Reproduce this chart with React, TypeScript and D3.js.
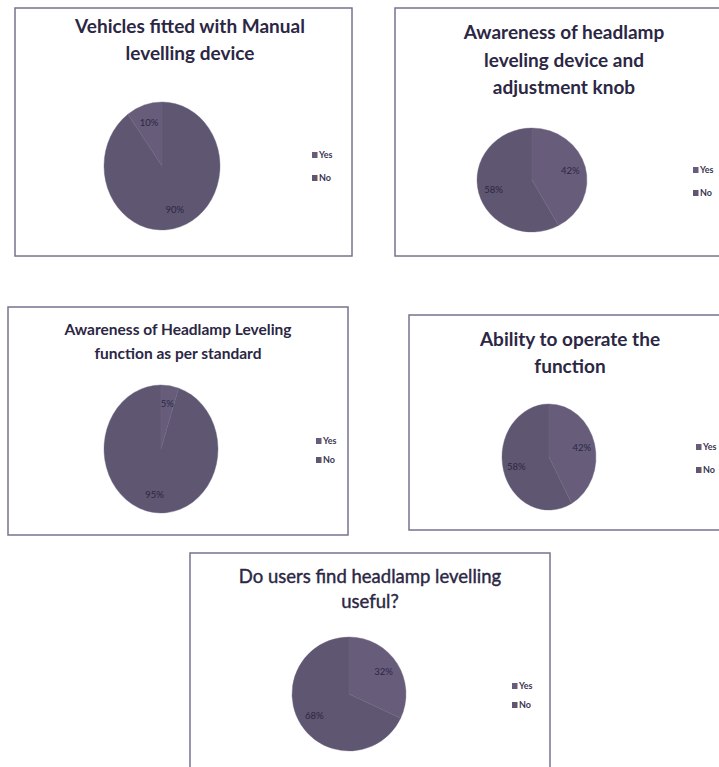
import React from "react";
import * as d3 from "d3";

// ---- data ----
const chartTitles: string[][] = [
  ["Vehicles fitted with Manual", "levelling device"],
  ["Awareness of headlamp", "leveling device and", "adjustment knob"],
  ["Awareness of Headlamp Leveling", "function as per standard"],
  ["Ability to operate the", "function"],
  ["Do users find headlamp levelling", "useful?"],
];
const categories = ["Yes", "No"];
const yesValues = [10, 42, 5, 42, 32];
const noValues = [90, 58, 95, 58, 68];
// chart 1 draws the Yes slice counter-clockwise from 12 o'clock
const yesCounterClockwise = [true, false, false, false, false];

// ---- layout (positions / styles) ----
type Layout = {
  box: [number, number, number, number];
  titleSize: number;
  titleWeight: string | number;
  titleStroke: number;
  titleCx: number;
  titleY: number[];
  cx: number;
  cy: number;
  rx: number;
  ry: number;
  legX: number;
  legY: [number, number];
};
const layouts: Layout[] = [
  { box: [15, 8, 337, 248], titleSize: 19, titleWeight: "bold", titleStroke: 0, titleCx: 190, titleY: [33, 60], cx: 162, cy: 166, rx: 58, ry: 64, legX: 312, legY: [155, 178] },
  { box: [395, 8, 340, 248], titleSize: 19, titleWeight: "bold", titleStroke: 0, titleCx: 564, titleY: [39, 67, 94], cx: 532, cy: 180, rx: 55, ry: 52, legX: 693, legY: [170, 193] },
  { box: [8, 307, 340, 228], titleSize: 15.5, titleWeight: "bold", titleStroke: 0, titleCx: 178, titleY: [335, 359], cx: 161, cy: 449, rx: 57, ry: 64, legX: 316, legY: [441, 460] },
  { box: [409, 315, 330, 215], titleSize: 19, titleWeight: "bold", titleStroke: 0, titleCx: 570, titleY: [346, 373], cx: 549, cy: 457, rx: 47, ry: 53, legX: 696, legY: [447, 470] },
  { box: [190, 553, 360, 240], titleSize: 18.5, titleWeight: "normal", titleStroke: 0.4, titleCx: 370, titleY: [583, 608], cx: 349, cy: 694, rx: 57, ry: 57, legX: 512, legY: [686, 705] },
];

const sliceColors: Record<string, string> = { Yes: "#675d7b", No: "#5f5671" };
const textColor = "#2b2744";
const borderColor = "#77738f";
const font = "Lato, 'Open Sans', sans-serif";

function PieChart({ idx }: { idx: number }) {
  const L = layouts[idx];
  const data = [
    { cat: categories[0], value: yesValues[idx] },
    { cat: categories[1], value: noValues[idx] },
  ];
  const total = d3.sum(data, (d) => d.value);
  const offset = yesCounterClockwise[idx] ? -(yesValues[idx] / total) * 2 * Math.PI : 0;
  const pie = d3
    .pie<{ cat: string; value: number }>()
    .sort(null)
    .value((d) => d.value)
    .startAngle(offset)
    .endAngle(offset + 2 * Math.PI);
  const arcs = pie(data);
  const R = L.rx;
  const sy = L.ry / L.rx;
  const arc = d3.arc<d3.PieArcDatum<{ cat: string; value: number }>>().innerRadius(0).outerRadius(R);
  const labelArc = d3
    .arc<d3.PieArcDatum<{ cat: string; value: number }>>()
    .innerRadius(R * 0.72)
    .outerRadius(R * 0.72);
  const [bx, by, bw, bh] = L.box;
  return (
    <g>
      <rect x={bx} y={by} width={bw} height={bh} fill="#fff" stroke={borderColor} strokeWidth={1.5} />
      {chartTitles[idx].map((t, i) => (
        <text
          key={i}
          x={L.titleCx}
          y={L.titleY[i]}
          textAnchor="middle"
          fontFamily={font}
          fontSize={L.titleSize}
          fontWeight={L.titleWeight}
          fill={textColor}
          stroke={L.titleStroke ? textColor : "none"}
          strokeWidth={L.titleStroke}
        >
          {t}
        </text>
      ))}
      <g transform={`translate(${L.cx},${L.cy}) scale(1,${sy})`}>
        {arcs.map((a, i) => (
          <path key={i} d={arc(a) || ""} fill={sliceColors[a.data.cat]} stroke="#6d6582" strokeWidth={0.4} />
        ))}
      </g>
      {arcs.map((a, i) => {
        const [lx, ly] = labelArc.centroid(a);
        return (
          <text
            key={"l" + i}
            x={L.cx + lx}
            y={L.cy + ly * sy}
            dy="0.35em"
            textAnchor="middle"
            fontFamily={font}
            fontSize={9.5}
            fill={textColor}
          >
            {Math.round((a.data.value / total) * 100)}%
          </text>
        );
      })}
      {categories.map((c, i) => (
        <g key={"lg" + i}>
          <rect x={L.legX} y={L.legY[i] - 3} width={5.5} height={6} fill={sliceColors[c]} />
          <text
            x={L.legX + 7}
            y={L.legY[i]}
            dy="0.35em"
            fontFamily={font}
            fontSize={9}
            fontWeight="bold"
            fill="#3a3552"
          >
            {c}
          </text>
        </g>
      ))}
    </g>
  );
}

export default function App() {
  return (
    <svg
      width={719}
      height={767}
      style={{ position: "absolute", left: 0, top: 0, background: "#fff" }}
    >
      <rect width={719} height={767} fill="#fff" />
      {layouts.map((_, i) => (
        <PieChart key={i} idx={i} />
      ))}
    </svg>
  );
}
